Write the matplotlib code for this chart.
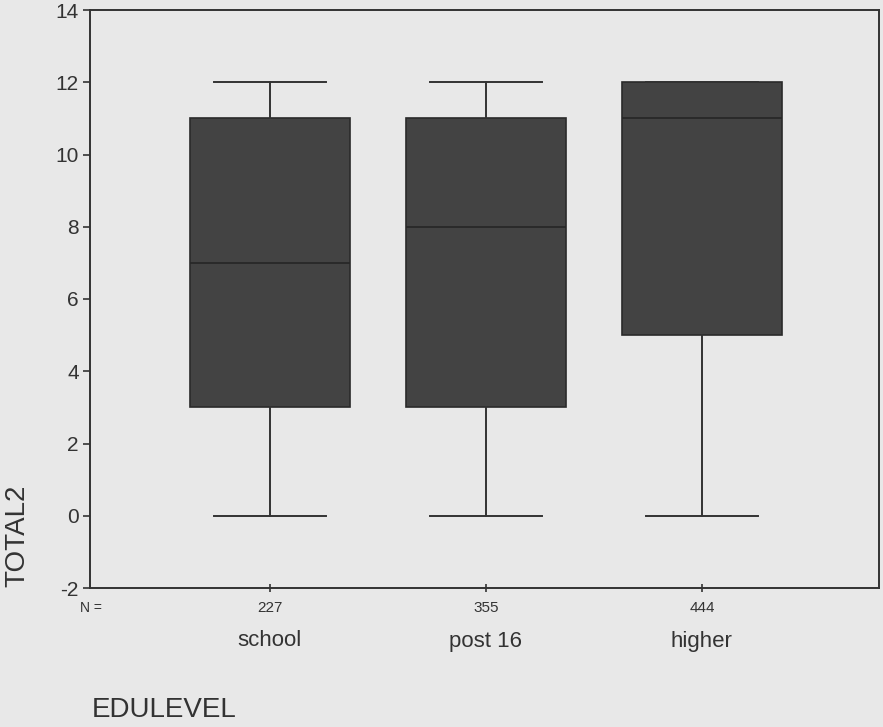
import matplotlib.pyplot as plt

# box summary for TOTAL2 by EDULEVEL
groups = ['school', 'post 16', 'higher']
counts = [227, 355, 444]
whislo = [0, 0, 0]
q1 = [3, 3, 5]
med = [7, 8, 11]
q3 = [11, 11, 12]
whishi = [12, 12, 12]

plt.rcParams['font.family'] = ['Liberation Sans', 'DejaVu Sans']
plt.rcParams['axes.unicode_minus'] = False
bg = '#e8e8e8'
ink = '#333333'

fig = plt.figure(figsize=(8.83, 7.27), dpi=100, facecolor=bg)
ax = fig.add_axes([90 / 883, 139 / 727, 789 / 883, 578 / 727], facecolor=bg)

stats = []
for i in range(len(groups)):
    stats.append({'label': groups[i], 'whislo': whislo[i], 'q1': q1[i],
                  'med': med[i], 'q3': q3[i], 'whishi': whishi[i], 'fliers': []})

ax.bxp(stats, positions=[1, 2, 3], widths=0.74, patch_artist=True,
       showfliers=False,
       boxprops=dict(facecolor='#434343', edgecolor='#2a2a2a', linewidth=1.2),
       medianprops=dict(color='#262626', linewidth=1.2),
       whiskerprops=dict(color=ink, linewidth=1.4),
       capprops=dict(color=ink, linewidth=1.4),
       capwidths=0.52)

ax.set_xlim(0.167, 3.82)
ax.set_ylim(-2, 14)
ax.set_yticks(range(-2, 15, 2))
ax.tick_params(axis='y', labelsize=15, colors=ink, length=5, width=1.2, pad=3)
ax.tick_params(axis='x', length=6, width=1.2, colors=ink, labelbottom=False,
               direction='inout')
ax.set_xticks([1, 2, 3])
for s in ax.spines.values():
    s.set_color(ink)
    s.set_linewidth(1.4)

# counts and group names below the axis
fig.text(80 / 883, 1 - 608 / 727, 'N =', fontsize=10, color=ink, va='center')
for i, g in enumerate(groups):
    x = ax.transData.transform((i + 1, 0))[0] / fig.bbox.width
    fig.text(x, 1 - 608 / 727, str(counts[i]), fontsize=11, color=ink,
             ha='center', va='center')
    fig.text(x, 1 - 641 / 727, g, fontsize=16, color=ink,
             ha='center', va='center')

fig.text(92 / 883, 1 - 710 / 727, 'EDULEVEL', fontsize=20, color=ink,
         ha='left', va='center')
fig.text(17 / 883, 1 - 536 / 727, 'TOTAL2', fontsize=20, color=ink,
         rotation=90, ha='center', va='center')

fig.savefig('out.png', dpi=100, facecolor=bg)
